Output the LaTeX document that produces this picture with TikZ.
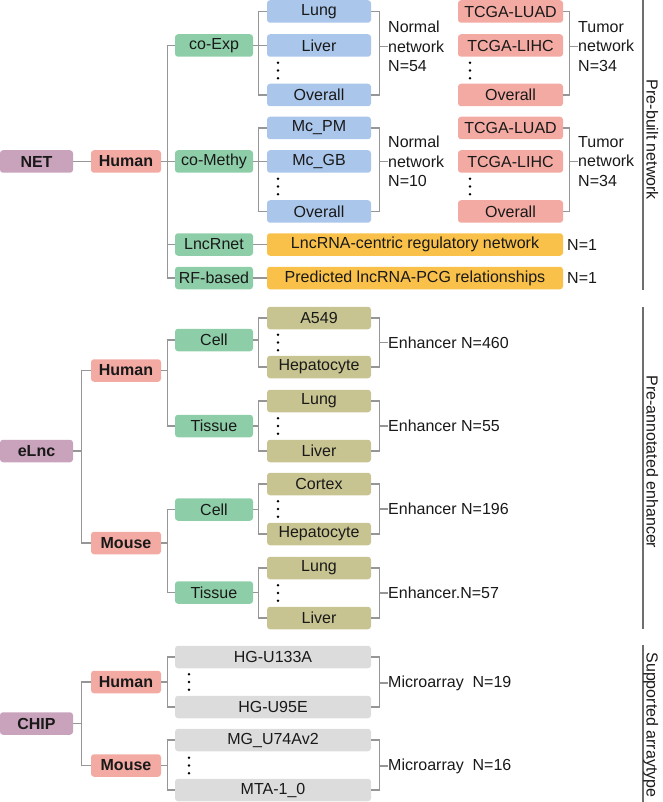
\documentclass[tikz,border=0pt]{standalone}
\usepackage{fontspec}
\setmainfont{Liberation Sans}
\definecolor{cpur}{RGB}{201,163,187}
\definecolor{cpink}{RGB}{242,170,163}
\definecolor{cgreen}{RGB}{141,206,168}
\definecolor{cblue}{RGB}{170,198,234}
\definecolor{corange}{RGB}{249,193,73}
\definecolor{colive}{RGB}{200,196,145}
\definecolor{cgrey}{RGB}{220,220,220}
\definecolor{cline}{RGB}{150,150,150}
\definecolor{crule}{RGB}{110,110,110}
\definecolor{ctext}{RGB}{25,25,25}
\newcommand\fsz{\fontsize{16}{19.5}\selectfont}
\begin{document}
\begin{tikzpicture}[x=1pt,y=-1pt,
  box/.style={rounded corners=3pt, minimum height=22.5pt, inner sep=0pt, text=ctext, font=\fsz},
  rootbox/.style={box, fill=cpur, minimum width=73pt, font=\fsz\bfseries},
  spbox/.style={box, fill=cpink, minimum width=70pt, font=\fsz\bfseries},
  gbox/.style={box, fill=cgreen, minimum width=78pt},
  bbox/.style={box, fill=cblue, minimum width=104pt},
  pbox/.style={box, fill=cpink, minimum width=105pt},
  obox/.style={box, fill=corange, minimum width=296pt},
  olbox/.style={box, fill=colive, minimum width=104pt},
  grbox/.style={box, fill=cgrey, minimum width=196pt},
  lab/.style={anchor=west, inner sep=0pt, align=left, text=ctext, font=\fsz},
  sect/.style={rotate=-90, anchor=base, inner sep=0pt, text=ctext, font=\fsz},
  conn/.style={draw=cline, line width=1.1pt},
  rulel/.style={draw=crule, line width=1.1pt},
  dotm/.style={fill=black}
]
\useasboundingbox (0,0) rectangle (662,802);
\coordinate (bx) at (379,0);
\coordinate (tx) at (569,0);

% ===== NET section =====
\node[rootbox] (net) at (36.5,161.5) {NET};
\node[spbox] (hum1) at (126,161.5) {Human};
\node[gbox] (cexp) at (214,45.5) {co-Exp};
\node[gbox] (cmet) at (214,161.5) {co-Methy};
\node[gbox] (lncr) at (214,244.5) {LncRnet};
\node[gbox] (rfb) at (214,278) {RF-based};
\node[bbox] (lung1) at (319,11.5) {Lung};
\node[bbox] (liver1) at (319,45.5) {Liver};
\node[bbox] (ov1) at (319,95) {Overall};
\node[bbox] (mcpm) at (319,128) {Mc\_PM};
\node[bbox] (mcgb) at (319,161.5) {Mc\_GB};
\node[bbox] (ov2) at (319,211.5) {Overall};
\node[pbox] (tl1) at (510.5,11.5) {TCGA-LUAD};
\node[pbox] (th1) at (510.5,45.5) {TCGA-LIHC};
\node[pbox] (to1) at (510.5,95) {Overall};
\node[pbox] (tl2) at (510.5,128) {TCGA-LUAD};
\node[pbox] (th2) at (510.5,161.5) {TCGA-LIHC};
\node[pbox] (to2) at (510.5,211.5) {Overall};
\node[obox] (o1) at (415,244.5) {LncRNA-centric regulatory network};
\node[obox] (o2) at (415,278) {Predicted lncRNA-PCG relationships};
\node[lab] (nn1) at (388,46.5) {Normal\\network\\N=54};
\node[lab] (nn2) at (388,161.5) {Normal\\network\\N=10};
\node[lab] (tn1) at (578,46.5) {Tumor\\network\\N=34};
\node[lab] (tn2) at (578,161.5) {Tumor\\network\\N=34};
\node[lab] (n1a) at (567,244.5) {N=1};
\node[lab] (n1b) at (567,278) {N=1};

\draw[conn] (net.east) -- (hum1.west);
\draw[conn] (hum1.east) -- (cmet.west);
\draw[conn] (cexp.west) -- ++(-7,0) |- (rfb.west);
\draw[conn] (lncr.west) -- ++(-7,0);
\draw[conn] (cexp.east) -- (liver1.west);
\draw[conn] (lung1.west) -- ++(-8,0) |- (ov1.west);
\draw[conn] (cmet.east) -- (mcgb.west);
\draw[conn] (mcpm.west) -- ++(-8,0) |- (ov2.west);
\draw[conn] (lncr.east) -- (o1.west);
\draw[conn] (rfb.east) -- (o2.west);
\draw[conn] (lung1.east) -- ++(8,0) |- (ov1.east);
\draw[conn] (nn1.west) -- (nn1.west -| bx);
\draw[conn] (mcpm.east) -- ++(8,0) |- (ov2.east);
\draw[conn] (nn2.west) -- (nn2.west -| bx);
\draw[conn] (tl1.east) -- ++(6,0) |- (to1.east);
\draw[conn] (tn1.west) -- (tn1.west -| tx);
\draw[conn] (tl2.east) -- ++(6,0) |- (to2.east);
\draw[conn] (tn2.west) -- (tn2.west -| tx);

\foreach \x/\y in {278/70.5, 278/186.5, 470/70.5, 470/186.5}{
  \foreach \d in {-7.8,0,7.8}{\fill[dotm] (\x,\y+\d) circle (1.4pt);}
}
\draw[rulel] (643,0) -- (643,290);
\node[sect] (s1) at (646.5,140) {Pre-built network};

% ===== eLnc section =====
\node[rootbox] (elnc) at (36.5,451) {eLnc};
\node[spbox] (hum2) at (126,370.5) {Human};
\node[spbox] (mou2) at (126,543) {Mouse};
\node[gbox] (cell1) at (214,340) {Cell};
\node[gbox] (tis1) at (214,426) {Tissue};
\node[gbox] (cell2) at (214,509.5) {Cell};
\node[gbox] (tis2) at (214,592.5) {Tissue};
\node[olbox] (a549) at (319,318) {A549};
\node[olbox] (hep1) at (319,367) {Hepatocyte};
\node[olbox] (lung2) at (319,401) {Lung};
\node[olbox] (liv2) at (319,451) {Liver};
\node[olbox] (cort) at (319,484) {Cortex};
\node[olbox] (hep2) at (319,534) {Hepatocyte};
\node[olbox] (lung3) at (319,568) {Lung};
\node[olbox] (liv3) at (319,618) {Liver};
\node[lab] (e1) at (388,342.5) {Enhancer N=460};
\node[lab] (e2) at (388,426) {Enhancer N=55};
\node[lab] (e3) at (388,509) {Enhancer N=196};
\node[lab] (e4) at (388,593) {Enhancer.N=57};

\draw[conn] (elnc.east) -- ++(9,0);
\draw[conn] (hum2.west) -- ++(-9,0) |- (mou2.west);
\draw[conn] (hum2.east) -- ++(7,0);
\draw[conn] (cell1.west) -- ++(-7,0) |- (tis1.west);
\draw[conn] (mou2.east) -- ++(7,0);
\draw[conn] (cell2.west) -- ++(-7,0) |- (tis2.west);
\draw[conn] (cell1.east) -- ++(6,0);
\draw[conn] (a549.west) -- ++(-8,0) |- (hep1.west);
\draw[conn] (tis1.east) -- ++(6,0);
\draw[conn] (lung2.west) -- ++(-8,0) |- (liv2.west);
\draw[conn] (cell2.east) -- ++(6,0);
\draw[conn] (cort.west) -- ++(-8,0) |- (hep2.west);
\draw[conn] (tis2.east) -- ++(6,0);
\draw[conn] (lung3.west) -- ++(-8,0) |- (liv3.west);
\draw[conn] (a549.east) -- ++(8,0) |- (hep1.east);
\draw[conn] (e1.west) -- (e1.west -| bx);
\draw[conn] (lung2.east) -- ++(8,0) |- (liv2.east);
\draw[conn] (e2.west) -- (e2.west -| bx);
\draw[conn] (cort.east) -- ++(8,0) |- (hep2.east);
\draw[conn] (e3.west) -- (e3.west -| bx);
\draw[conn] (lung3.east) -- ++(8,0) |- (liv3.east);
\draw[conn] (e4.west) -- (e4.west -| bx);

\foreach \y in {342.5, 426, 509, 593}{
  \foreach \d in {-7.8,0,7.8}{\fill[dotm] (278,\y+\d) circle (1.4pt);}
}
\draw[rulel] (643,307) -- (643,629);
\node[sect] (s2) at (646.5,462) {Pre-annotated enhancer};

% ===== CHIP section =====
\node[rootbox] (chip) at (36.5,723.5) {CHIP};
\node[spbox] (hum3) at (126,682) {Human};
\node[spbox] (mou3) at (126,765.5) {Mouse};
\node[grbox] (hg1) at (273,657) {HG-U133A};
\node[grbox] (hg2) at (273,707) {HG-U95E};
\node[grbox] (mg1) at (273,740) {MG\_U74Av2};
\node[grbox] (mg2) at (273,790) {MTA-1\_0};
\node[lab] (m1) at (388,683) {Microarray~ N=19};
\node[lab] (m2) at (388,766) {Microarray~ N=16};

\draw[conn] (chip.east) -- ++(9,0);
\draw[conn] (hum3.west) -- ++(-9,0) |- (mou3.west);
\draw[conn] (hum3.east) -- ++(7,0);
\draw[conn] (hg1.west) -- ++(-7,0) |- (hg2.west);
\draw[conn] (mou3.east) -- ++(7,0);
\draw[conn] (mg1.west) -- ++(-7,0) |- (mg2.west);
\draw[conn] (hg1.east) -- ++(8,0) |- (hg2.east);
\draw[conn] (m1.west) -- (m1.west -| bx);
\draw[conn] (mg1.east) -- ++(8,0) |- (mg2.east);
\draw[conn] (m2.west) -- (m2.west -| bx);

\foreach \y in {682, 765.5}{
  \foreach \d in {-7.8,0,7.8}{\fill[dotm] (189,\y+\d) circle (1.4pt);}
}
\draw[rulel] (643,645) -- (643,802);
\node[sect] (s3) at (646.5,725) {Supported arraytype};
\end{tikzpicture}
\end{document}
